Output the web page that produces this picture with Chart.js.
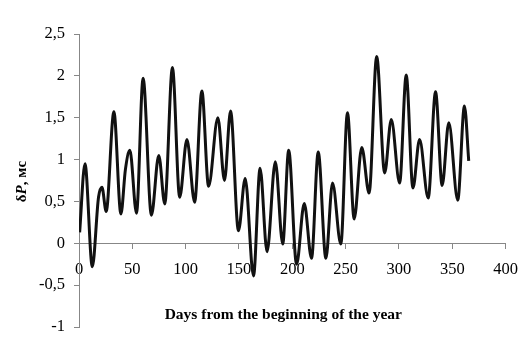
<!DOCTYPE html>
<html>
<head>
<meta charset="utf-8">
<script src="https://cdn.jsdelivr.net/npm/chart.js@4/dist/chart.umd.min.js"></script>
<style>
  html, body { margin: 0; padding: 0; background: #fff; }
  #wrap { width: 529px; height: 358px; position: relative; }
</style>
</head>
<body>
<div id="wrap"><canvas id="c" width="529" height="358"></canvas></div>
<script>
// Days of extrema / key points
const days = [0.6, 5.6, 12.5, 18.3, 21.5, 25.5, 32.7, 39.3, 43.5, 47.7, 53.9, 60.1, 67.9, 74.8,
  80.4, 87.6, 94.4, 101.2, 108.4, 115.2, 121.5, 130.2, 136.4, 142.1, 149.5, 155.8,
  163.6, 169.8, 176.3, 184.1, 191, 196.6, 204, 211.2, 218, 224.3, 231.5, 237.7, 245.5,
  251.7, 258, 265.1, 272, 279.1, 286.6, 292.8, 300.6, 306.8, 313.1, 319.3, 327.4,
  334.3, 340.5, 346.7, 355.1, 361.4, 365.4];
// δP values (ms)
const dP = [0.13, 0.95, -0.28, 0.55, 0.67, 0.38, 1.57, 0.35, 0.88, 1.11, 0.36, 1.97, 0.335, 1.05,
  0.47, 2.10, 0.55, 1.24, 0.49, 1.82, 0.68, 1.50, 0.75, 1.58, 0.15, 0.775,
  -0.39, 0.895, -0.10, 0.975, -0.01, 1.11, -0.25, 0.475, -0.18, 1.09, -0.18, 0.72, -0.01,
  1.56, 0.29, 1.145, 0.60, 2.23, 0.84, 1.48, 0.72, 2.01, 0.66, 1.24, 0.54,
  1.81, 0.69, 1.44, 0.515, 1.64, 0.985];
const xTicks = [0, 50, 100, 150, 200, 250, 300, 350, 400];
const yTicks = [-1, -0.5, 0, 0.5, 1, 1.5, 2, 2.5];
const xTitle = 'Days from the beginning of the year';
const yTitleParts = ['δ', 'P', ', мс'];

const points = days.map((d, i) => ({ x: d, y: dP[i] }));
const serif = '"Liberation Serif", "Times New Roman", serif';
const axisGray = '#878787';

const titlesPlugin = {
  id: 'axisTitles',
  afterDraw(chart) {
    const ctx = chart.ctx;
    const ca = chart.chartArea;
    ctx.save();
    ctx.fillStyle = '#000';
    // X title
    ctx.font = 'bold 15.5px ' + serif;
    ctx.textAlign = 'center';
    ctx.textBaseline = 'middle';
    ctx.fillText(xTitle, (ca.left + ca.right) / 2 - 9, 315);
    // Y title (rotated, mixed styles)
    const fonts = ['bold 15px ' + serif, 'bold italic 15px ' + serif, 'bold 15px ' + serif];
    let total = 0;
    const widths = yTitleParts.map((t, i) => { ctx.font = fonts[i]; const w = ctx.measureText(t).width; total += w; return w; });
    ctx.translate(22, (ca.top + ca.bottom) / 2 + 1);
    ctx.rotate(-Math.PI / 2);
    ctx.textAlign = 'left';
    let x = -total / 2;
    yTitleParts.forEach((t, i) => { ctx.font = fonts[i]; ctx.fillText(t, x, 0); x += widths[i]; });
    ctx.restore();
  }
};

new Chart(document.getElementById('c'), {
  type: 'line',
  data: {
    datasets: [{
      data: points,
      borderColor: '#111',
      borderWidth: 3,
      pointRadius: 0,
      fill: false,
      cubicInterpolationMode: 'monotone'
    }]
  },
  options: {
    responsive: false,
    animation: false,
    devicePixelRatio: 1,
    layout: { padding: { top: 34, right: 22, bottom: 31, left: 0 } },
    plugins: { legend: { display: false }, tooltip: { enabled: false }, title: { display: false } },
    scales: {
      x: {
        type: 'linear',
        position: { y: 0 },
        min: 0, max: 400,
        afterBuildTicks: s => { s.ticks = xTicks.map(v => ({ value: v })); },
        afterFit: s => { s.height = 0; },
        border: { display: true, color: axisGray, width: 1 },
        grid: { display: true, drawOnChartArea: false, drawTicks: true, tickLength: 5, color: axisGray },
        ticks: { color: '#000', padding: 11, maxRotation: 0, font: { family: serif, size: 16.5 } }
      },
      y: {
        type: 'linear',
        position: 'left',
        min: -1, max: 2.5,
        afterBuildTicks: s => { s.ticks = yTicks.map(v => ({ value: v })); },
        afterFit: s => { s.width = 79; },
        border: { display: true, color: axisGray, width: 1 },
        grid: { display: true, drawOnChartArea: false, drawTicks: true, tickLength: 5, color: axisGray },
        ticks: { color: '#000', padding: 9, font: { family: serif, size: 16.5 },
          callback: v => String(v).replace('.', ',') }
      }
    }
  },
  plugins: [titlesPlugin]
});
</script>
</body>
</html>
